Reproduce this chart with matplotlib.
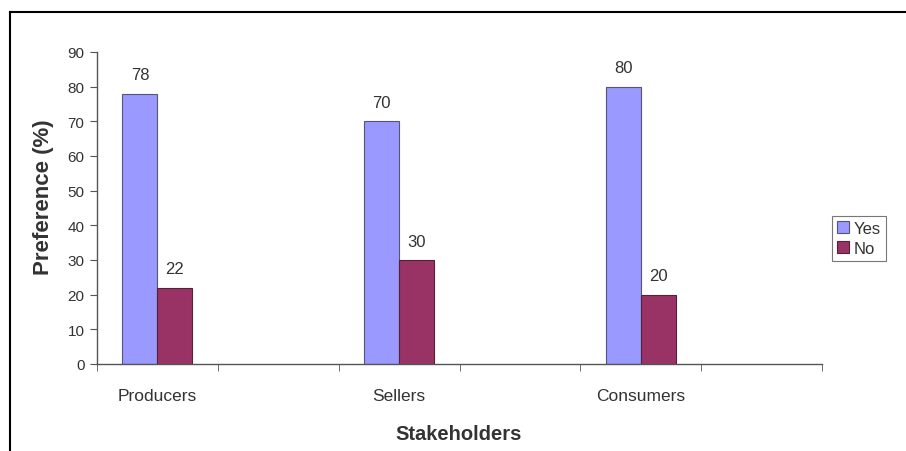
import matplotlib.pyplot as plt
import numpy as np
from matplotlib.lines import Line2D

plt.rcParams['font.family'] = ['Liberation Sans', 'DejaVu Sans']

# data
categories = ["Producers", "", "Sellers", "", "Consumers", ""]
yes_vals = [78, None, 70, None, 80, None]
no_vals = [22, None, 30, None, 20, None]

yes_color = '#9999FF'
no_color = '#993366'
text_color = '#333333'

fig = plt.figure(figsize=(9.06, 4.52), dpi=100)
ax = fig.add_axes([97 / 906, 1 - 365 / 452, (822 - 97) / 906, (365 - 53) / 452])

x = np.arange(len(categories))
w = 0.29
for i in range(len(categories)):
    if yes_vals[i] is None:
        continue
    ax.bar(x[i] - w / 2, yes_vals[i], w, color=yes_color, edgecolor='#555577', linewidth=0.8,
           label='Yes' if i == 0 else None)
    ax.bar(x[i] + w / 2, no_vals[i], w, color=no_color, edgecolor='#552233', linewidth=0.8,
           label='No' if i == 0 else None)
    ax.text(x[i] - w / 2, yes_vals[i] + 3.3, str(yes_vals[i]), ha='center', va='bottom',
            fontsize=12, color=text_color)
    ax.text(x[i] + w / 2, no_vals[i] + 3.3, str(no_vals[i]), ha='center', va='bottom',
            fontsize=12, color=text_color)

ax.set_xlim(-0.5, len(categories) - 0.5)
ax.set_ylim(0, 90)
ax.set_yticks(range(0, 91, 10))
ax.set_xticks(x)
ax.set_xticklabels(categories, fontsize=12.5, color=text_color)
ax.set_xticks(np.arange(-0.5, len(categories), 1), minor=True)
ax.tick_params(axis='x', which='major', length=0, pad=17)
ax.tick_params(axis='x', which='minor', length=5, color='#555555', direction='out')
ax.tick_params(axis='y', length=5, color='#555555', labelsize=11, labelcolor=text_color, pad=4)

for s in ['top', 'right']:
    ax.spines[s].set_visible(False)
for s in ['left', 'bottom']:
    ax.spines[s].set_color('#555555')
    ax.spines[s].set_linewidth(1)

fig.text(44 / 906, 1 - 197 / 452, 'Preference (%)', rotation=90, ha='center', va='center',
         fontsize=16, fontweight='bold', color=text_color)
fig.text(459 / 906, 1 - 435 / 452, 'Stakeholders', ha='center', va='center',
         fontsize=14.5, fontweight='bold', color=text_color)

leg = ax.legend(loc='upper left', bbox_to_anchor=(832 / 906, 1 - 217 / 452), bbox_transform=fig.transFigure,
                frameon=True, fancybox=False, fontsize=12, handlelength=0.7, handleheight=0.7,
                handletextpad=0.3, borderpad=0.3, labelspacing=0.3, borderaxespad=0)
leg.get_frame().set_edgecolor('#555555')
leg.get_frame().set_linewidth(0.8)
for t in leg.get_texts():
    t.set_color(text_color)

# outer frame: top and left edges only
fig.add_artist(Line2D([10 / 906, 1], [1 - 13 / 452, 1 - 13 / 452], transform=fig.transFigure,
                      color='black', linewidth=1.5))
fig.add_artist(Line2D([10 / 906, 10 / 906], [0, 1 - 13 / 452], transform=fig.transFigure,
                      color='black', linewidth=1.5))

fig.savefig('out.png', dpi=100)
